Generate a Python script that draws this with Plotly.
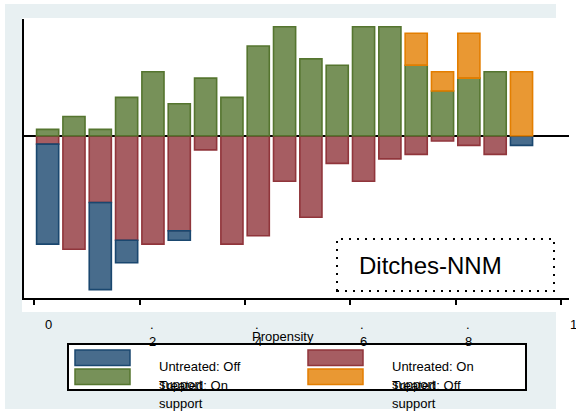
import plotly.graph_objects as go

# propensity score bins (bin centres, width .05)
bins = [0.025, 0.075, 0.125, 0.175, 0.225, 0.275, 0.325, 0.375, 0.425, 0.475,
        0.525, 0.575, 0.625, 0.675, 0.725, 0.775, 0.825, 0.875, 0.925]

# treated (drawn above zero)
treated_on = [1, 3, 1, 6, 10, 5, 9, 6, 14, 17, 12, 11, 17, 17, 11, 7, 9, 10, 0]
treated_off = [0, 0, 0, 0, 0, 0, 0, 0, 0, 0, 0, 0, 0, 0, 5, 3, 7, 0, 10]

# untreated (drawn below zero)
untreated_on = [1.3, 17.7, 10.4, 16.3, 16.9, 14.8, 2.2, 16.9, 15.6, 7.1,
                12.7, 4.3, 7.1, 3.6, 2.9, 0.8, 1.5, 2.9, 0]
untreated_off = [15.6, 0, 13.6, 3.5, 0, 1.5, 0, 0, 0, 0,
                 0, 0, 0, 0, 0, 0, 0, 0, 1.5]

tick_vals = [0, 0.2, 0.4, 0.6, 0.8, 1]
tick_top = ["0", ".", ".", ".", ".", "1"]
tick_bottom = ["", "2", "4", "6", "8", ""]

legend_labels = ["Untreated: Off", "Untreated: On", "Treated: On", "Treated: Off"]

NAVY = (26, 71, 111)
MAROON = (144, 53, 59)
FOREST = (85, 117, 47)
ORANGE = (227, 126, 0)

W, H = 576, 412
ML, MR, MT, MB = 24, 7, 19, 114
PW = W - ML - MR
PH = H - MT - MB
FONT = "Liberation Sans, Arial, sans-serif"


def px(x):
    return (x - ML) / PW


def py(y):
    return (H - MB - y) / PH


def fill(c):
    return "rgba(%d,%d,%d,0.8)" % c


def line(c):
    return "rgb(%d,%d,%d)" % c


def label(x, y, text, xref="paper", xanchor="center", size=13, xshift=0):
    return dict(x=x, y=y, xref=xref, yref="paper", text=text, showarrow=False,
                xanchor=xanchor, yanchor="middle", xshift=xshift,
                font=dict(family=FONT, size=size, color="black"))


fig = go.Figure()

series = [
    (untreated_on, MAROON, -1),
    (untreated_off, NAVY, -1),
    (treated_on, FOREST, 1),
    (treated_off, ORANGE, 1),
]
for vals, col, sign in series:
    fig.add_trace(go.Bar(
        x=bins,
        y=[sign * v if v else None for v in vals],
        width=0.042,
        marker=dict(color=fill(col), line=dict(color=line(col), width=1.6)),
        showlegend=False,
    ))

shapes = [
    # graph region background
    dict(type="rect", xref="paper", yref="paper", layer="below",
         x0=px(5), x1=px(556), y0=py(409), y1=py(4),
         fillcolor="#e8f0f2", line=dict(width=0)),
    dict(type="rect", xref="paper", yref="paper", layer="below",
         x0=px(22), x1=px(580), y0=py(312), y1=py(18),
         fillcolor="white", line=dict(width=0)),
    # Ditches-NNM box
    dict(type="rect", xref="paper", yref="paper",
         x0=px(337), x1=px(554), y0=py(291), y1=py(239),
         line=dict(color="black", width=2, dash="2px,6px")),
    # legend box
    dict(type="rect", xref="paper", yref="paper",
         x0=px(68), x1=px(526), y0=py(390), y1=py(344),
         fillcolor="white", line=dict(color="black", width=2)),
]

# legend swatches
swatches = [(NAVY, 75, 350), (MAROON, 308, 350), (FOREST, 75, 369), (ORANGE, 308, 369)]
for col, sx, sy in swatches:
    shapes.append(dict(type="rect", xref="paper", yref="paper",
                       x0=px(sx), x1=px(sx + 55), y0=py(sy + 15.5), y1=py(sy),
                       fillcolor=fill(col), line=dict(color=line(col), width=1.5)))

annotations = []

# tick labels (Stata wrapped ".2" into two lines)
for v, top, bot in zip(tick_vals, tick_top, tick_bottom):
    shift = 14 if top == "0" else 12
    annotations.append(label(v, py(324), top, xref="x", xshift=shift))
    if bot:
        annotations.append(label(v, py(341), bot, xref="x", xshift=13))

annotations.append(label(px(283), py(336), "Propensity"))

# legend text (Stata-style wrapped labels)
text_pos = [(157, 366), (390, 366), (157, 385), (390, 385)]
for lab, (tx, ty) in zip(legend_labels, text_pos):
    annotations.append(label(px(tx), py(ty), lab, xanchor="left"))
    annotations.append(label(px(tx), py(ty + 18), "support", xanchor="left"))

annotations.append(label(px(357), py(265), "Ditches-NNM", xanchor="left", size=24))

fig.update_layout(
    width=W, height=H,
    margin=dict(l=ML, r=MR, t=MT, b=MB),
    barmode="relative",
    paper_bgcolor="white",
    plot_bgcolor="rgba(0,0,0,0)",
    font=dict(family=FONT, size=13, color="black"),
    shapes=shapes,
    annotations=annotations,
    xaxis=dict(range=[-0.0199, 1.0152], showgrid=False, zeroline=False,
               showline=True, linecolor="black", linewidth=2,
               tickvals=tick_vals, ticks="outside", ticklen=5, tickwidth=2,
               tickcolor="black", showticklabels=False),
    yaxis=dict(range=[-25.3, 18.22], showgrid=False,
               zeroline=True, zerolinecolor="black", zerolinewidth=2,
               showline=True, linecolor="black", linewidth=2,
               showticklabels=False, ticks=""),
)

# drop the browser's default page margin so the figure sits at the top-left
fig.write_html("out.html", config={"displayModeBar": False},
               post_script="document.body.style.margin='0';")
